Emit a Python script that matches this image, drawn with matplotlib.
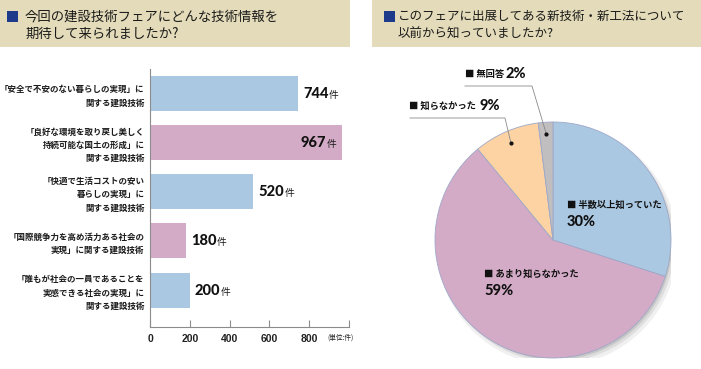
import matplotlib
matplotlib.use('Agg')
import matplotlib.pyplot as plt
from matplotlib.patches import Rectangle, Circle
import numpy as np

plt.rcParams['font.family'] = ['Noto Sans CJK JP', 'DejaVu Sans']

# ---------------- data ----------------
title_left = ["今回の建設技術フェアにどんな技術情報を", "期待して来られましたか?"]
title_right = ["このフェアに出展してある新技術・新工法について", "以前から知っていましたか?"]

bar_categories = [
    "「安全で不安のない暮らしの実現」に\n関する建設技術",
    "「良好な環境を取り戻し美しく\n持続可能な国土の形成」に\n関する建設技術",
    "「快適で生活コストの安い\n暮らしの実現」に\n関する建設技術",
    "「国際競争力を高め活力ある社会の\n実現」に関する建設技術",
    "「誰もが社会の一員であることを\n実感できる社会の実現」に\n関する建設技術",
]
bar_values = [744, 967, 520, 180, 200]
bar_unit = "件"
x_ticks = [0, 200, 400, 600, 800, 1000]
x_tick_labels = ["0", "200", "400", "600", "800", ""]
unit_label = "(単位:件)"

pie_labels = ["半数以上知っていた", "あまり知らなかった", "知らなかった", "無回答"]
pie_values = [30, 59, 9, 2]

# ---------------- style ----------------
W, H = 701, 369
fig = plt.figure(figsize=(W / 100, H / 100), dpi=100)

def fx(x):
    return x / W

def fy(y):
    return 1 - y / H

TAN = '#e3dbb9'
NAVY = '#1e3a8a'
BLUE = '#abc8e2'
PINK = '#d4abc6'
ORANGE = '#fdd3a3'
GRAY = '#c0bebf'
bar_colors = [BLUE, PINK, BLUE, PINK, BLUE]
NUMFONT = ['Lato', 'DejaVu Sans']

# title boxes
for (x0, x1, sq, tx, lines, fs) in [(0, 350, 7, 25, title_left, 9.6), (372, 701, 384, 398, title_right, 9.0)]:
    fig.patches.append(Rectangle((fx(x0), fy(47)), fx(x1) - fx(x0), 47 / H,
                                 transform=fig.transFigure, facecolor=TAN, edgecolor='none', zorder=0))
    fig.patches.append(Rectangle((fx(sq), fy(22)), 11 / W, 11 / H,
                                 transform=fig.transFigure, facecolor=NAVY, edgecolor='none', zorder=1))
    fig.text(fx(tx), fy(16), lines[0], fontsize=fs, va='center', ha='left', color='#1a1a1a')
    fig.text(fx(tx), fy(34), lines[1], fontsize=fs, va='center', ha='left', color='#1a1a1a')

# ---------------- bar chart ----------------
ax = fig.add_axes([fx(150), fy(327), fx(349) - fx(150), (327 - 69) / H])
ypos = np.arange(len(bar_values))
ax.barh(ypos, bar_values, height=0.71, color=bar_colors, edgecolor='none')
ax.set_xlim(0, 1000)
ax.set_ylim(4.75, -0.49)
for s in ['top', 'right']:
    ax.spines[s].set_visible(False)
for s in ['left', 'bottom']:
    ax.spines[s].set_color('#8c8c8c')
    ax.spines[s].set_linewidth(0.8)
ax.set_xticks(x_ticks)
ax.set_xticklabels(x_tick_labels, family=['Liberation Sans'], fontweight='bold', fontsize=7.5, color='#222')
ax.tick_params(axis='x', direction='in', length=5, width=0.8, color='#8c8c8c', pad=5)
ax.set_yticks(ypos)
ax.set_yticklabels(bar_categories, fontsize=6.1, fontweight='bold', linespacing=1.6,
                   multialignment='right', color='#1a1a1a')
ax.tick_params(axis='y', length=0, pad=4)
ax.set_facecolor('none')

fig.text(fx(341), fy(338), unit_label, fontsize=4.8, ha='center', va='center', color='#222')

for i, v in enumerate(bar_values):
    if v > 900:
        tu = ax.annotate(bar_unit, xy=(v, i), xytext=(-4, -3.3), textcoords='offset points',
                         ha='right', va='baseline', fontsize=7, color='#1a1a1a')
        ax.annotate(str(v), xy=(0, i), xycoords=(tu, 'data'), xytext=(-0.5, -3.3),
                    textcoords='offset points', ha='right', va='baseline',
                    fontsize=10.5, fontweight='black', family=NUMFONT, color='#111')
    else:
        tn = ax.annotate(str(v), xy=(v, i), xytext=(3.5, -3.3), textcoords='offset points',
                         ha='left', va='baseline', fontsize=10.5, fontweight='black',
                         family=NUMFONT, color='#111', annotation_clip=False)
        ax.annotate(bar_unit, xy=(1, i), xycoords=(tn, 'data'), xytext=(0.5, -3.3),
                    textcoords='offset points', ha='left', va='baseline', fontsize=7,
                    color='#1a1a1a', annotation_clip=False)

# ---------------- pie chart ----------------
R = 118
cx, cy = 553, 240
ax2 = fig.add_axes([fx(cx - R), fy(cy + R), 2 * R / W, 2 * R / H])
for dx, dy, rr, a in [(0.035, -0.045, 1.02, 0.06), (0.03, -0.035, 1.0, 0.08), (0.02, -0.025, 0.99, 0.1)]:
    ax2.add_patch(Circle((dx, dy), rr, facecolor='#000000', alpha=a, edgecolor='none', zorder=0))
ax2.pie(pie_values, colors=[BLUE, PINK, ORANGE, GRAY], startangle=90, counterclock=False, radius=1,
        wedgeprops=dict(edgecolor='#9ea8c8', linewidth=0.6, zorder=1))
ax2.set_xlim(-1, 1)
ax2.set_ylim(-1, 1)
ax2.set_aspect('equal')
ax2.axis('off')

cum = np.cumsum([0] + pie_values[:-1])
total = float(sum(pie_values))
mids = np.deg2rad(90 - 360 * (cum + np.array(pie_values) / 2) / total)

# leader lines for the two small slices (index 3 = 無回答, index 2 = 知らなかった)
leaders = {3: ((-0.178, 1.305), -0.746), 2: ((-0.407, 1.034), -1.212)}
for idx, ((ex, ey), endx) in leaders.items():
    px, py = 0.9 * np.cos(mids[idx]), 0.9 * np.sin(mids[idx])
    ax2.plot([px, ex, endx], [py, ey, ey], color='#8a8a8a', lw=0.6, clip_on=False, zorder=3)
    ax2.plot([px], [py], 'o', color='#111', ms=2, clip_on=False, zorder=4)

def pie_label(x, y, label, pct, pct_x=None, pct_y=None):
    fig.text(fx(x), fy(y), "■ " + label, fontsize=6.7, fontweight='bold', ha='left', va='center', color='#111')
    fig.text(fx(pct_x if pct_x is not None else x), fy(pct_y if pct_y is not None else y + 17),
             f"{pct}%", fontsize=10.5, fontweight='black', family=NUMFONT, ha='left', va='center', color='#111')

pie_label(567, 205, pie_labels[0], pie_values[0])
pie_label(484, 274, pie_labels[1], pie_values[1])
pie_label(409, 106, pie_labels[2], pie_values[2], pct_x=479, pct_y=106)
pie_label(465, 74, pie_labels[3], pie_values[3], pct_x=506, pct_y=74)

fig.savefig('out.png', dpi=100)
